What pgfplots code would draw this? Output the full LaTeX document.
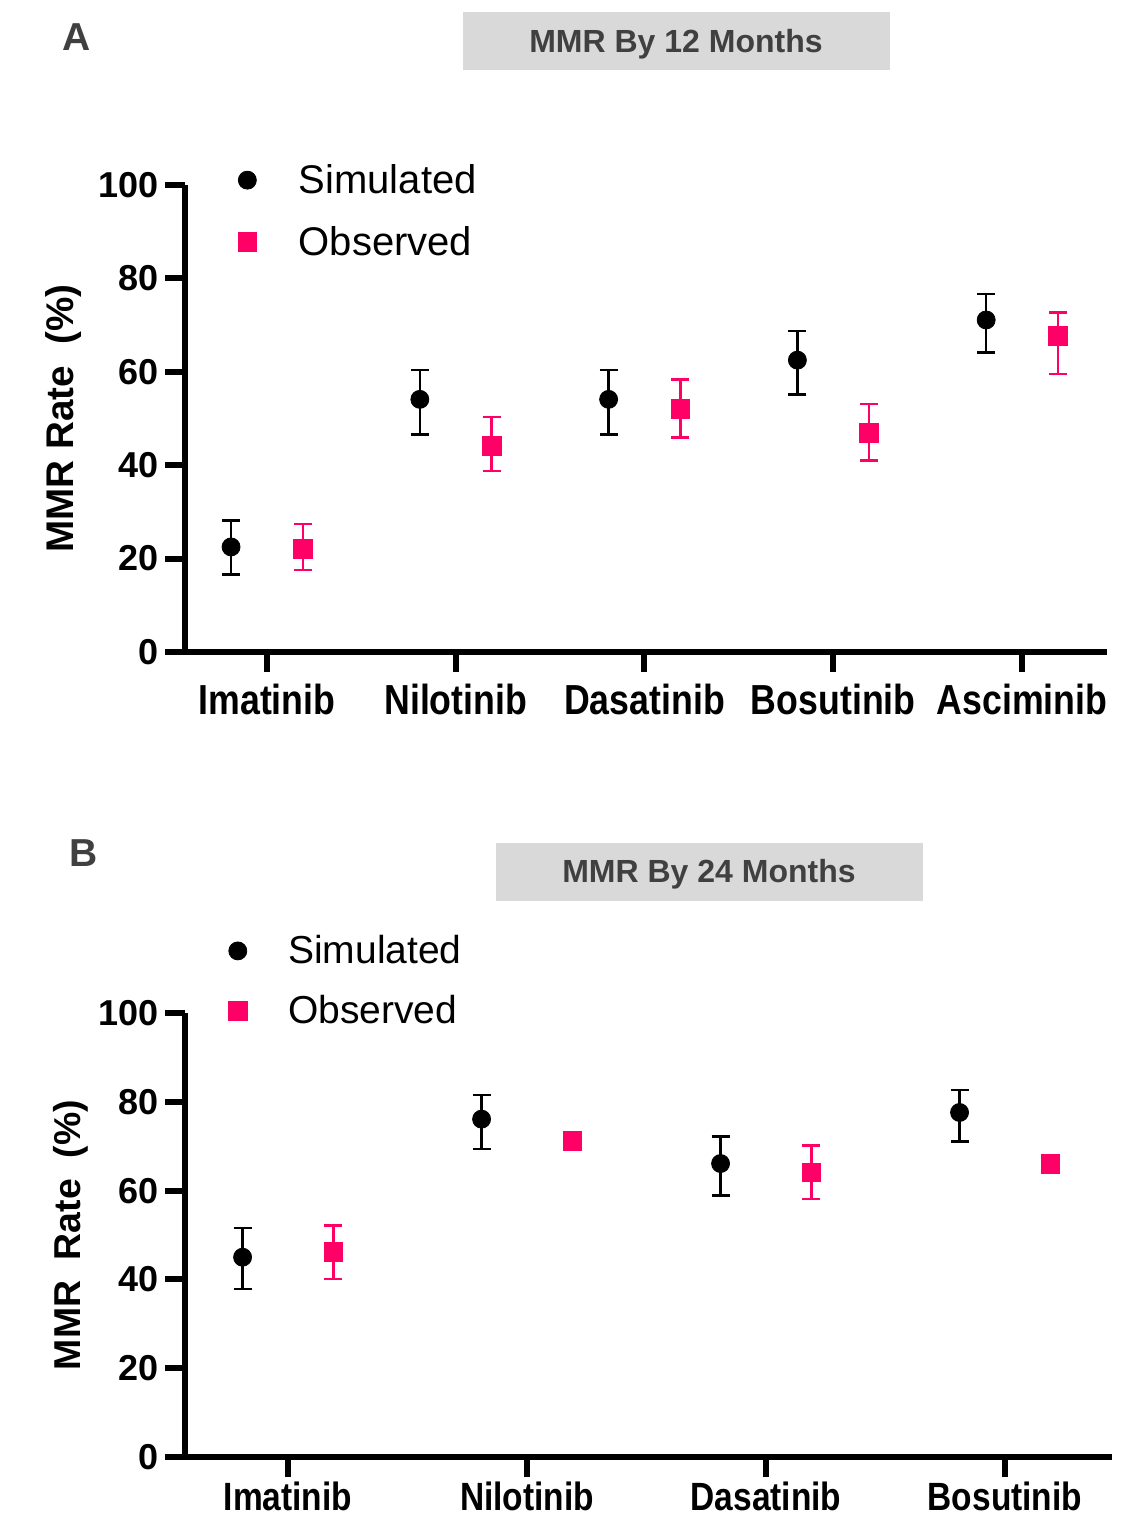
\documentclass[border=0pt]{standalone}
\usepackage{fontspec}
\setmainfont{Liberation Sans}
\usepackage{pgfplots}
\pgfplotsset{compat=1.18}
\definecolor{obspink}{HTML}{FF0066}
\definecolor{titlegray}{HTML}{404040}
\definecolor{boxgray}{HTML}{D9D9D9}

\pgfplotsset{
  mmrpanel/.style={
    scale only axis,
    axis lines=left,
    axis line style={line width=3pt,-},
    tick style={line width=3pt,black},
    major tick length=10pt,
    tick align=outside,
    ymin=0, ymax=100,
    ytick={0,20,40,60,80,100},
    enlargelimits=false,
    clip=false,
    /pgf/number format/assume math mode=true,
    yticklabel style={font=\fontsize{18}{20}\selectfont\bfseries, xshift=0.5pt},
    xticklabel style={font=\fontsize{21}{24}\selectfont\bfseries, xscale=0.85,
      inner ysep=1pt, text depth=0pt, yshift=-5pt},
    ylabel style={anchor=center},
    legend style={draw=none, fill=none, inner sep=0pt},
    legend cell align=left,
    error bars/error bar style={line width=1.3pt},
    error bars/error mark options={rotate=90, mark size=4.5pt, line width=1.3pt},
  },
  simstyle/.style={only marks, black, mark=*, mark size=4.5pt,
    error bars/.cd, y dir=both, y explicit},
  obsstyle/.style={only marks, obspink, mark=square*, mark size=4.7pt,
    error bars/.cd, y dir=both, y explicit},
}

\begin{document}
\begin{tikzpicture}
\useasboundingbox (0,0) rectangle (564pt,-760pt);

% ---------------- panel A ----------------
\node[font=\fontsize{19.5}{22}\selectfont\bfseries, text=titlegray] at (38.5pt,-18.5pt) {A};
\node[fill=boxgray, minimum width=213.5pt, minimum height=29pt, inner sep=0pt] at (338pt,-20.5pt) {};
\node[text=titlegray, font=\fontsize{16}{18}\selectfont\bfseries] at (338pt,-22pt) {MMR By 12 Months};

\begin{axis}[mmrpanel,
  at={(92.5pt,-326pt)}, anchor=south west,
  width=461pt, height=233.5pt,
  xmin=0.566, xmax=5.45,
  xtick={1,2,3,4,5},
  xticklabels={Imatinib,Nilotinib,Dasatinib,Bosutinib,Asciminib},
  ylabel={MMR Rate\ \ (\%)},
  ylabel style={font=\fontsize{19.3}{22}\selectfont\bfseries, at={(axis description cs:-0.132,0.5)}},
  legend style={at={(axis description cs:0.057,0.944)}, anchor=west,
    font=\fontsize{20}{24}\selectfont, row sep=11pt},
]
\addplot[simstyle] coordinates {
  (0.81,22.5) += (0,5.6) -= (0,5.9)
  (1.81,54.1) += (0,6.3) -= (0,7.5)
  (2.81,54.1) += (0,6.3) -= (0,7.5)
  (3.81,62.5) += (0,6.2) -= (0,7.3)
  (4.81,71.1) += (0,5.6) -= (0,7.0)
};
\addlegendentry{\hspace{19pt}Simulated}
\addplot[obsstyle] coordinates {
  (1.19,22.1) += (0,5.3) -= (0,4.5)
  (2.19,44.1) += (0,6.2) -= (0,5.3)
  (3.19,52.1) += (0,6.2) -= (0,6.2)
  (4.19,47.0) += (0,6.1) -= (0,6.0)
  (5.19,67.7) += (0,5.0) -= (0,8.2)
};
\addlegendentry{\hspace{19pt}Observed}
\end{axis}

% ---------------- panel B ----------------
\node[font=\fontsize{19.5}{22}\selectfont\bfseries, text=titlegray] at (42pt,-426.5pt) {B};
\node[fill=boxgray, minimum width=213.5pt, minimum height=29pt, inner sep=0pt] at (354.5pt,-435.75pt) {};
\node[text=titlegray, font=\fontsize{16}{18}\selectfont\bfseries] at (354.5pt,-437.25pt) {MMR By 24 Months};

\begin{axis}[mmrpanel,
  at={(92.5pt,-728.5pt)}, anchor=south west,
  width=463.5pt, height=222pt,
  xmin=0.569, xmax=4.448,
  xtick={1,2,3,4},
  xticklabels={Imatinib,Nilotinib,Dasatinib,Bosutinib},
  xticklabel style={font=\fontsize{19.7}{22}\selectfont\bfseries, inner ysep=0pt, yshift=2.5pt},
  ylabel={MMR\ \ Rate\ \ (\%)},
  ylabel style={font=\fontsize{18.7}{22}\selectfont\bfseries, at={(axis description cs:-0.123,0.5)}},
  legend style={at={(axis description cs:0.0464,1.072)}, anchor=west,
    font=\fontsize{19.5}{23}\selectfont, row sep=10.5pt},
]
\addplot[simstyle] coordinates {
  (0.81,45.0) += (0,6.6) -= (0,7.2)
  (1.81,76.1) += (0,5.4) -= (0,6.7)
  (2.81,66.1) += (0,6.1) -= (0,7.2)
  (3.81,77.6) += (0,5.1) -= (0,6.6)
};
\addlegendentry{\hspace{18.5pt}Simulated}
\addplot[obsstyle] coordinates {
  (1.19,46.2) += (0,5.9) -= (0,6.1)
  (3.19,64.1) += (0,6.1) -= (0,6.0)
};
\addlegendentry{\hspace{18.5pt}Observed}
\addplot[only marks, obspink, mark=square*, mark size=4.7pt, forget plot] coordinates {
  (2.19,71.2)
  (4.19,66.1)
};
\end{axis}
\end{tikzpicture}
\end{document}
